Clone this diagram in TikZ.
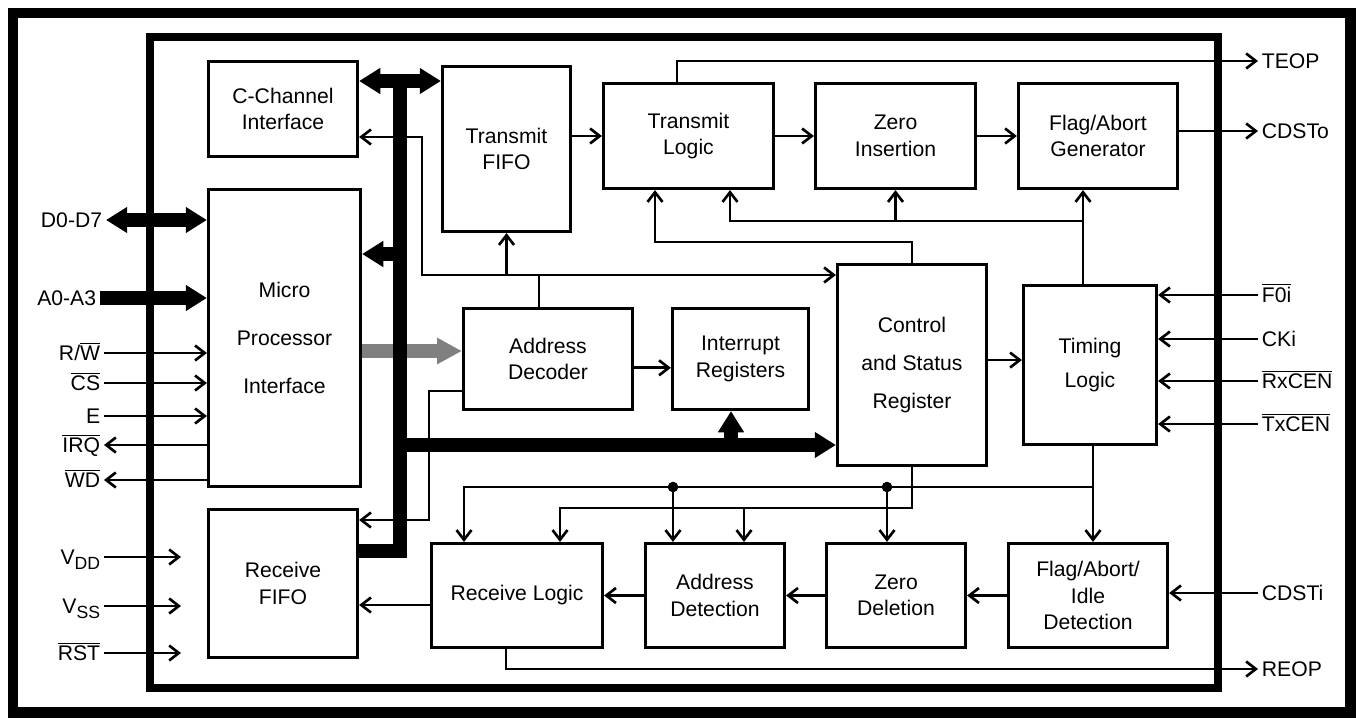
\documentclass[tikz,border=0pt]{standalone}
\usepackage{fontspec}
\setmainfont{Liberation Sans}
\usetikzlibrary{arrows.meta}
\newcommand{\nbar}[1]{$\overline{\hbox{#1}}$}
\newcommand{\lowsub}[1]{\raisebox{-0.45ex}{\fontsize{10}{10}\selectfont #1}}
\tikzset{
  blok/.style={draw,line width=1.8pt,align=center,inner sep=0pt,font=\fontsize{12}{15}\selectfont},
  sz/.style 2 args={minimum width=#1*0.567pt,minimum height=#2*0.567pt},
  pin/.style={inner sep=2pt,text height=8.6pt,text depth=0pt,font=\fontsize{12}{14}\selectfont},
  sig/.style={line width=1.5pt,>={Straight Barb[length=5.5pt,width=8.5pt]}},
  bus/.style={line width=7.4pt,line join=miter,>={Triangle[length=12pt,width=14pt]}},
  gbus/.style={line width=8pt,black!50,>={Triangle[length=14pt,width=14pt]}}
}
\begin{document}
\begin{tikzpicture}[x=0.567pt,y=-0.567pt]%HDLC
\useasboundingbox (0,0) rectangle (1356,719);
\draw[line width=6.2pt] (13,13) rectangle (1350.5,712.5);
\draw[line width=4pt] (150,37) rectangle (1218,688);
% blocks
\node[blok,sz={149}{95}] (cch) at (283,109) {C-Channel\\Interface};
\node[blok,sz={152}{297},font=\fontsize{12}{27}\selectfont] (mpi) at (284.5,338) {Micro\\Processor\\Interface};
\node[blok,sz={149}{148}] (rfifo) at (283,583.5) {Receive\\FIFO};
\node[blok,sz={128}{165}] (tfifo) at (506.5,149) {Transmit\\FIFO};
\node[blok,sz={170}{105}] (tlog) at (688.5,136) {Transmit\\Logic};
\node[blok,sz={160}{105}] (zins) at (895.5,136) {Zero\\Insertion};
\node[blok,sz={159}{105}] (fgen) at (1098,136) {Flag/Abort\\Generator};
\node[blok,sz={169}{101}] (adec) at (548,359) {Address\\Decoder};
\node[blok,sz={136}{101}] (ireg) at (740.5,359) {Interrupt\\Registers};
\node[blok,sz={149}{201},font=\fontsize{12}{21.5}\selectfont] (csr) at (912,365) {Control\\and Status\\Register};
\node[blok,sz={133}{159},font=\fontsize{12}{19}\selectfont] (tim) at (1090,365) {Timing\\Logic};
\node[blok,sz={171}{104}] (rlog) at (517,595.5) {Receive Logic};
\node[blok,sz={139}{104}] (adet) at (715,595.5) {Address\\Detection};
\node[blok,sz={139}{104}] (zdel) at (896,595.5) {Zero\\Deletion};
\node[blok,sz={159}{104}] (faid) at (1088,595.5) {Flag/Abort/\\Idle\\Detection};
% bends
\coordinate (bt) at (400,81);
\coordinate (bb) at (400,551);
\coordinate (bm) at (400,254);
\coordinate (bc) at (400,445);
\coordinate (iu) at (731,445);
\coordinate (g1) at (0,351);
\coordinate (cc1) at (422,137);
\coordinate (cc2) at (422,275);
\coordinate (ad) at (539,275);
\coordinate (al1) at (429,391);
\coordinate (al2) at (429,520);
\coordinate (ct) at (655,242);
\coordinate (tu) at (1083,221);
\coordinate (tl2) at (730,221);
\coordinate (td) at (1093,487);
\coordinate (r1) at (464,487);
\coordinate (d1) at (673,487);
\coordinate (d2) at (887,487);
\coordinate (r2) at (560,508);
\coordinate (a2) at (744,508);
\coordinate (teo) at (677,61);
\coordinate (ro) at (506,669);
\coordinate (pinx) at (181,0);
\coordinate (rf) at (0,605);
% thin lines
\draw[sig,<->] (cch.east |- cc1) -- (cc1) -- (cc2) -- (csr.west |- cc2);
\draw[sig] (ad |- adec.north) -- (ad);
\draw[sig,->] (tfifo.south |- cc2) -- (tfifo.south);
\draw[sig,->] (adec.west |- al1) -- (al1) -- (al2) -- (rfifo.east |- al2);
\draw[sig,->] (tfifo.east |- tlog.west) -- (tlog.west);
\draw[sig,->] (tlog.east) -- (zins.west);
\draw[sig,->] (zins.east) -- (fgen.west);
\draw[sig,->] ([yshift=-5pt]adec.east) -- ([yshift=-5pt]ireg.west);
\draw[sig,->] ([yshift=2.8pt]csr.east) -- ([yshift=2.8pt]tim.west);
\draw[sig,->] (csr.north) |- (ct) -- (ct |- tlog.south);
\draw[sig,->] (tu |- tim.north) -- (tu |- fgen.south);
\draw[sig,->] (tu) -- (tl2) -- (tl2 |- tlog.south);
\draw[sig,->] (zins.south |- tu) -- (zins.south);
\draw[sig,->] (td |- tim.south) -- (td |- faid.north);
\draw[sig,->] (td) -- (r1) -- (r1 |- rlog.north);
\draw[sig,->] (csr.south) |- (r2) -- (r2 |- rlog.north);
\draw[sig,->] (a2) -- (a2 |- adet.north);
\foreach \d/\b in {d1/adet,d2/zdel}{
  \fill (\d) circle (3pt);
  \draw[sig,->] (\d) -- (\d |- \b.north);
}
\draw[sig,->] (faid.west) -- (zdel.east);
\draw[sig,->] (zdel.west) -- (adet.east);
\draw[sig,->] (adet.west) -- (rlog.east);
\draw[sig,->] (rlog.west |- rf) -- (rfifo.east |- rf);
% pins right
\node[pin,anchor=west] (teop) at (1258,61) {TEOP};
\draw[sig,->] (teo |- tlog.north) -- (teo) -- (teop.west);
\node[pin,anchor=west] (cdsto) at (1258,131) {CDSTo};
\draw[sig,->] (fgen.east |- cdsto.west) -- (cdsto.west);
\foreach \n/\y/\t in {f0/295/\nbar{F0i},ck/339/CKi,rx/381/\nbar{RxCEN},tx/424/\nbar{TxCEN}}{
  \node[pin,anchor=west] (\n) at (1258,\y) {\t};
  \draw[sig,->] (\n.west) -- (tim.east |- \n.west);
}
\node[pin,anchor=west] (cdsti) at (1258,593) {CDSTi};
\draw[sig,->] (cdsti.west) -- (faid.east |- cdsti.west);
\node[pin,anchor=west] (reop) at (1258,669) {REOP};
\draw[sig,->] (rlog.south -| ro) -- (ro) -- (reop.west);
% pins left
\node[pin,anchor=east] (d07) at (106,220) {D0-D7};
\node[pin,anchor=east] (a03) at (100,298) {A0-A3};
\foreach \n/\y/\t in {rw/353/{R/\nbar{W}},cs/383/\nbar{CS},en/416/E}{
  \node[pin,anchor=east] (\n) at (104,\y) {\t};
  \draw[sig,->] (\n.east) -- (mpi.west |- \n.east);
}
\foreach \n/\y/\t in {irq/445/\nbar{IRQ},wd/480/\nbar{WD}}{
  \node[pin,anchor=east] (\n) at (104,\y) {\t};
  \draw[sig,->] (mpi.west |- \n.east) -- (\n.east);
}
\foreach \n/\y/\t in {vdd/557/V\lowsub{DD},vss/606/V\lowsub{SS},rst/653/\nbar{RST}}{
  \node[pin,anchor=east] (\n) at (104,\y) {\t};
  \draw[sig,->] (\n.east) -- (\n.east -| pinx);
}
% data bus
\draw[gbus,->] (mpi.east |- g1) -- (adec.west |- g1);
\draw[bus,<->] (d07.east) -- (mpi.west |- d07.east);
\draw[bus,->] (a03.east) -- (mpi.west |- a03.east);
\draw[bus,<->] (cch.east |- bt) -- (tfifo.west |- bt);
\draw[bus] (bt) -- (bb) -- (rfifo.east |- bb);
\draw[bus,->] (bm) -- (mpi.east |- bm);
\draw[bus,->] (bc) -- (csr.west |- bc);
\draw[bus,->] (iu) -- (iu |- ireg.south);
\end{tikzpicture}
\end{document}
